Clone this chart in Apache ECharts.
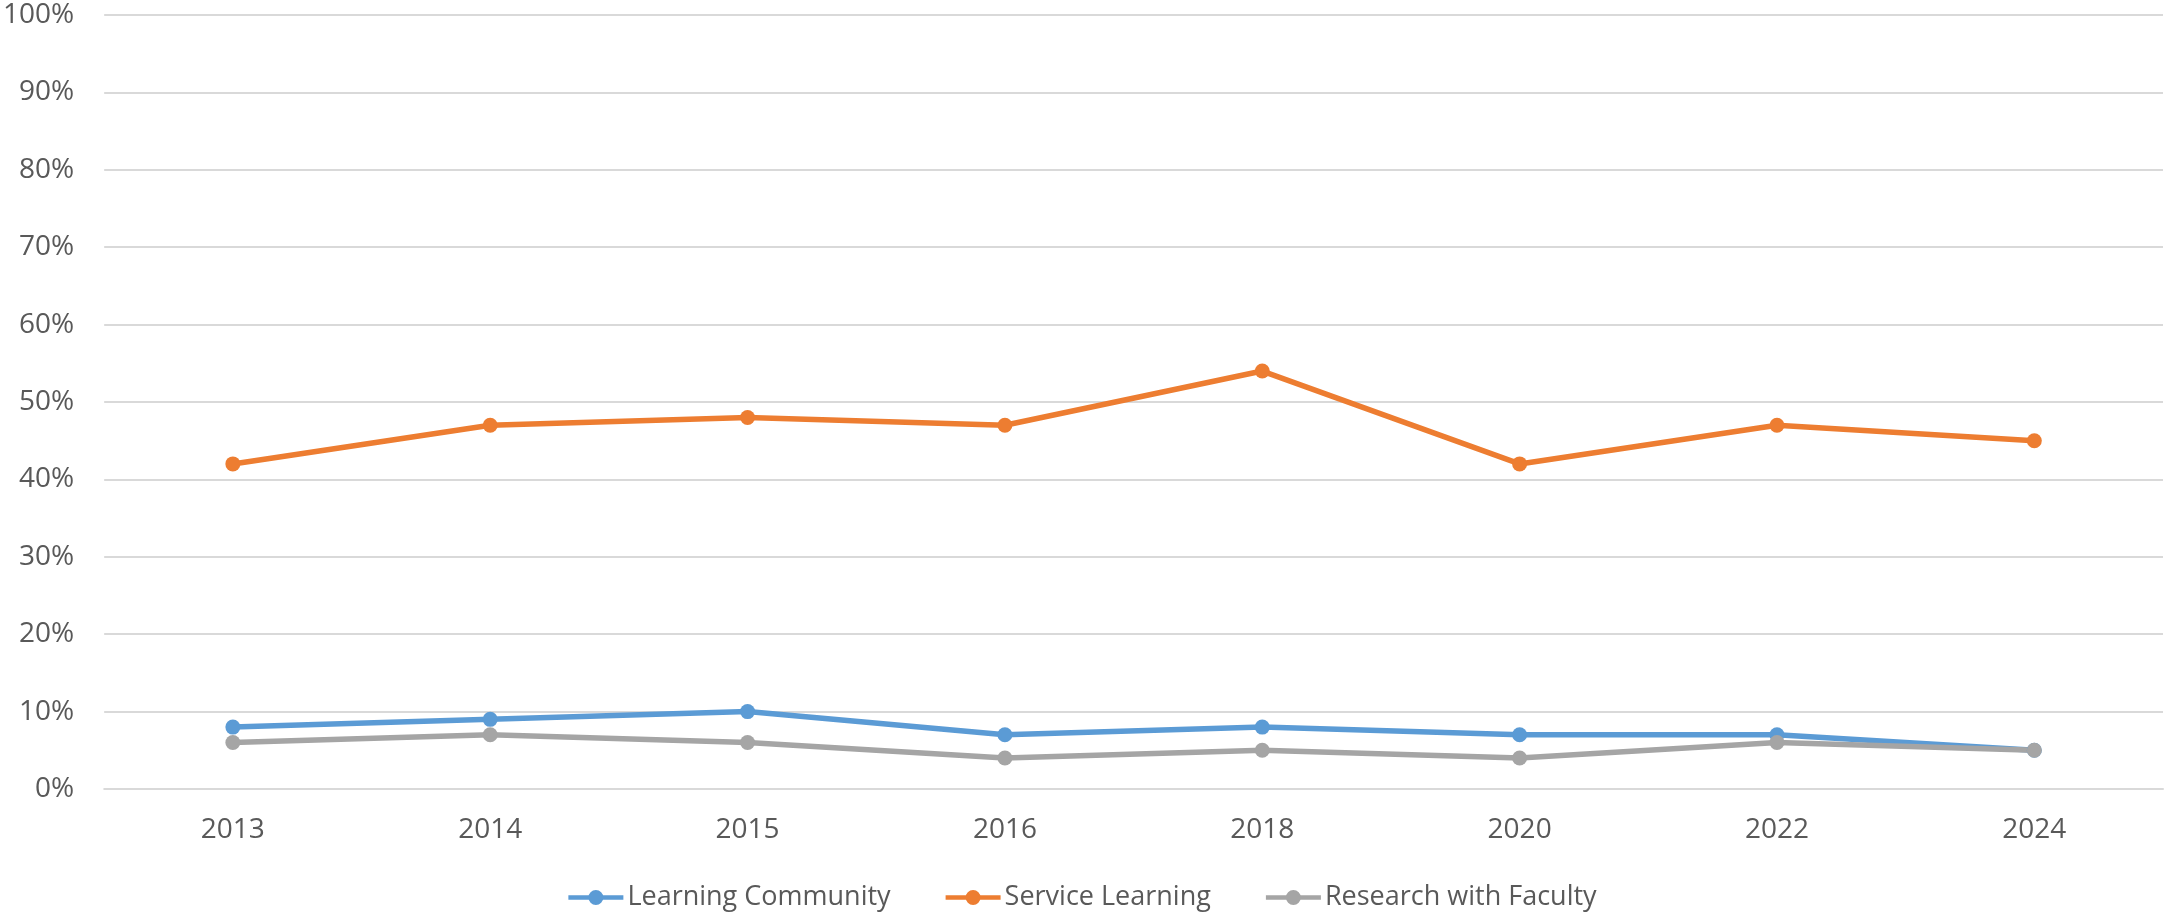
<!DOCTYPE html>
<html>
<head>
<meta charset="utf-8">
<script src="https://cdn.jsdelivr.net/npm/echarts@6/dist/echarts.min.js"></script>
<style>
html,body{margin:0;padding:0;background:#fff;}
#chart{width:2165px;height:912px;}
</style>
</head>
<body>
<div id="chart"></div>
<script>
const categories = ['2013','2014','2015','2016','2018','2020','2022','2024'];
const learningCommunity = [8, 9, 10, 7, 8, 7, 7, 5];
const serviceLearning = [42, 47, 48, 47, 54, 42, 47, 45];
const researchWithFaculty = [6, 7, 6, 4, 5, 4, 6, 5];
const seriesNames = ['Learning Community', 'Service Learning', 'Research with Faculty'];
const colors = ['#5B9BD5', '#ED7D31', '#A5A5A5'];

const chart = echarts.init(document.getElementById('chart'), null, {renderer: 'canvas'});
const font = '"Open Sans", "Liberation Sans", sans-serif';
const legendIcon = 'path://M0,5.25L20.4,5.25L20.4,9.75L0,9.75Z M34.6,5.25L55,5.25L55,9.75L34.6,9.75Z M20,7.5A7.5,7.5 0 1,1 35,7.5A7.5,7.5 0 1,1 20,7.5Z';
function mk(name, data, color) {
  return {
    name: name, type: 'line', data: data,
    symbol: 'circle', symbolSize: 15,
    lineStyle: {width: 5.5, color: color},
    itemStyle: {color: color},
    animation: false
  };
}
chart.setOption({
  animation: false,
  textStyle: {fontFamily: font},
  grid: {left: 103, right: 2, top: 15, bottom: 123, containLabel: false},
  legend: {
    top: 879, left: 'center',
    icon: legendIcon,
    itemWidth: 55, itemHeight: 15, itemGap: 55,
    textStyle: {fontSize: 27, color: '#595959', fontFamily: font, padding: [0, 0, 0, -1]},
    data: seriesNames
  },
  xAxis: {
    type: 'category', data: categories, boundaryGap: true,
    axisLine: {show: true, lineStyle: {color: '#d9d9d9', width: 2}},
    axisTick: {show: false},
    axisLabel: {fontSize: 28, color: '#595959', margin: 27, fontFamily: font}
  },
  yAxis: {
    type: 'value', min: 0, max: 100, interval: 10,
    axisLine: {show: false}, axisTick: {show: false},
    splitLine: {lineStyle: {color: '#d9d9d9', width: 2}},
    axisLabel: {fontSize: 28, color: '#595959', margin: 30, formatter: '{value}%', fontFamily: font}
  },
  series: [
    mk(seriesNames[0], learningCommunity, colors[0]),
    mk(seriesNames[1], serviceLearning, colors[1]),
    mk(seriesNames[2], researchWithFaculty, colors[2])
  ]
});
</script>
</body>
</html>
